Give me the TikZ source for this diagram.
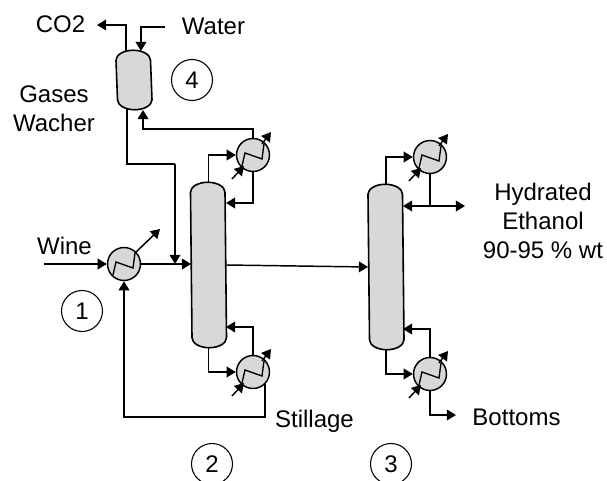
\documentclass[tikz,border=0pt]{standalone}
\usepackage{fontspec}
\setmainfont{Liberation Sans}
\usetikzlibrary{arrows.meta, calc}
\definecolor{vesselcolor}{RGB}{216, 216, 216}

\begin{document}
\begin{tikzpicture}[
    x=0.75pt, y=-0.75pt,
    line width=1.1pt,
    vessel/.style={minimum width=25.9pt, inner sep=0pt},
    vesselline/.style={draw, fill=vesselcolor, line width=1.2pt},
    exchanger/.style={circle, draw, fill=vesselcolor, minimum size=24.75pt, inner sep=0pt},
    stage/.style={circle, draw, line width=0.8pt, minimum size=30.75pt, inner sep=0pt, font=\fontsize{18}{22}\selectfont},
    label/.style={inner sep=0pt, align=center, font=\fontsize{18}{21.75}\selectfont},
    arrow/.style={-{Triangle[length=6.8pt, width=8pt]}},
    twoarrow/.style={{Triangle[length=6.8pt, width=8pt]}-{Triangle[length=6.8pt, width=8pt]}}
]
    \useasboundingbox (0,0) rectangle (607,481);

    % Vessels
    \node[vessel, minimum height=43.5pt] (scrubber) at (134,80) {};
    \node[vessel, minimum height=123pt] (beer) at (208.5,265) {};
    \node[vessel, minimum height=123pt] (rectifier) at (386,267) {};
    \foreach \n in {scrubber, beer, rectifier}
        \draw[vesselline] ([yshift=-7.5pt]\n.north west) arc [x radius=17.25, y radius=10, start angle=180, end angle=360]
            -- ([yshift=7.5pt]\n.south east) arc [x radius=17.25, y radius=10, start angle=0, end angle=180] -- cycle;

    % Exchangers
    \node[exchanger] (winehx) at (124,264) {};
    \node[exchanger] (beertop) at (253,155) {};
    \node[exchanger] (beerbot) at (253,372) {};
    \node[exchanger] (recttop) at (430,157) {};
    \node[exchanger] (rectbot) at (430,374) {};
    \foreach \n in {winehx, beertop, beerbot, recttop, rectbot}
        \draw[line width=1pt] ([shift={(-11,11)}]\n.center) -- ([shift={(-8,-2)}]\n.center)
            -- ([shift={(9,4)}]\n.center) -- ([shift={(11,-11)}]\n.center);
    \foreach \n in {beertop, beerbot, recttop, rectbot} {
        \draw[arrow] ([shift={(9,-11)}]\n.center) -- ([shift={(18,-23)}]\n.center);
        \draw[arrow] ([shift={(-21,24)}]\n.center) -- ([shift={(-9,11)}]\n.center);
    }
    \draw[arrow] ([shift={(11,-11)}]winehx.center) -- ([shift={(36,-35)}]winehx.center);

    % Stage numbers
    \node[stage] (one) at (82,311) {1};
    \node[stage] (two) at (212,464) {2};
    \node[stage] (three) at (391,464) {3};
    \node[stage] (four) at (192,80) {4};

    % Labels
    \node[label] (co2) at (60.5,24) {CO2};
    \node[label] (water) at (213.5,26) {Water};
    \node[label] (gases) at (54,109) {Gases\\Wacher};
    \node[label] (wine) at (64.5,246) {Wine};
    \node[label] (stillage) at (314.5,421) {Stillage};
    \node[label] (bottoms) at (516.5,417) {Bottoms};
    \node[label] (hydrated) at (543,221) {Hydrated\\Ethanol\\90-95 \% wt};

    % Free ends and bends
    \coordinate (co2end) at (97,25);
    \coordinate (scrubout) at (126,51);
    \coordinate (waterin) at (165,27);
    \coordinate (scrubin) at (141,51);
    \coordinate (washbot) at (127,109);
    \coordinate (washbend) at (175,164);
    \coordinate (washend) at (175,264);
    \coordinate (ventbend) at (253,129);
    \coordinate (ventend) at (143,110);
    \coordinate (beerreflux) at (226,203);
    \coordinate (beerboil) at (226,327);
    \coordinate (wineend) at (44,264);
    \coordinate (winefeed) at (191,264);
    \coordinate (recycle) at (124,417);
    \coordinate (rectreflux) at (403,206);
    \coordinate (productend) at (465,206);
    \coordinate (rectboil) at (403,329);
    \coordinate (bottomsend) at (456,415);

    % Gas scrubber
    \draw[arrow] (scrubout) |- (co2end);
    \draw[arrow] (waterin) -| (scrubin);
    \draw[arrow] (beertop.north) |- (ventbend) -| (ventend);
    \draw (washbot) |- (washbend);
    \draw[arrow] (washbend) -- (washend);

    % Feed and beer column
    \draw[arrow] (wineend) -- (winehx.west);
    \draw[arrow] (winehx.east) -- (winefeed);
    \draw[arrow] (beer.north) |- (beertop.west);
    \draw[arrow] (beertop.south) |- (beerreflux);
    \draw[arrow] (beer.south) |- (beerbot.west);
    \draw[arrow] (beerbot.north) |- (beerboil);
    \draw[arrow] (beerbot.-45) |- (recycle) -- (winehx.south);
    \draw[arrow] (beer.east) -- (rectifier.west);

    % Rectifier
    \draw[arrow] (rectifier.north) |- (recttop.west);
    \draw (recttop.south) -- (recttop.south |- rectreflux);
    \draw[twoarrow] (rectreflux) -- (productend);
    \draw[arrow] (rectifier.south) |- (rectbot.west);
    \draw[arrow] (rectbot.north) |- (rectboil);
    \draw[arrow] (rectbot.south) |- (bottomsend);
\end{tikzpicture}
\end{document}
